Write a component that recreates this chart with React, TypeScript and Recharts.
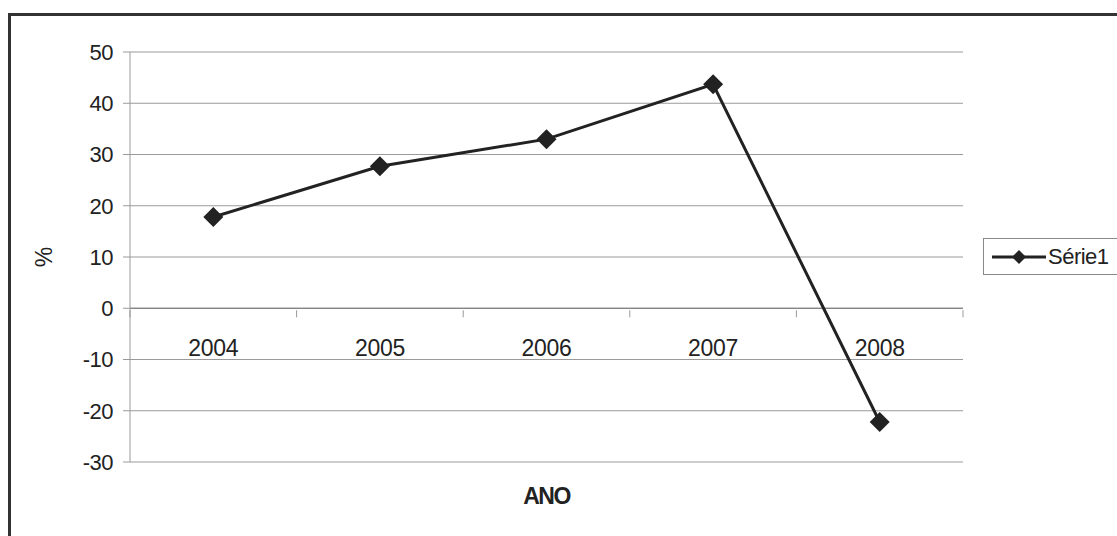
import { LineChart, Line, XAxis, YAxis, CartesianGrid, ReferenceLine, Legend } from 'recharts'

// valores (% por ano)
const years = ['2004', '2005', '2006', '2007', '2008']
const serie1 = [17.8, 27.7, 33, 43.7, -22.2]
const yTicks = [-30, -20, -10, 0, 10, 20, 30, 40, 50]
const SERIES_NAME = 'Série1'

const data = years.map((ano, i) => ({ ano, v: serie1[i] }))

const W = 1117
const H = 536
const MARGIN = { top: 52, right: 154, bottom: 0, left: 30 }
const Y_AXIS_W = 100
const X_AXIS_H = 74
const Y_MIN = -30
const Y_MAX = 50

const plotH = H - MARGIN.top - MARGIN.bottom - X_AXIS_H
const plotW = W - MARGIN.left - MARGIN.right - Y_AXIS_W
const band = plotW / years.length
// distância entre a base do gráfico e a linha do zero
const zeroShift = (plotH * (0 - Y_MIN)) / (Y_MAX - Y_MIN)

const FONT = '"Liberation Sans", Arial, sans-serif'
const INK = '#222'
const GRID = '#9a9a9a'

function Diamond(props: any) {
  const { cx, cy } = props
  if (cx == null || cy == null) return null
  const r = 10
  return <polygon points={`${cx},${cy - r} ${cx + r},${cy} ${cx},${cy + r} ${cx - r},${cy}`} fill={INK} />
}

// rótulos do eixo X ficam sobre a linha do zero, como no Excel
function XTick(props: any) {
  const { x, y, payload, index } = props
  const y0 = y - zeroShift
  return (
    <g>
      <line x1={x - band / 2} x2={x - band / 2} y1={y0} y2={y0 + 7} stroke={GRID} />
      {index === years.length - 1 && (
        <line x1={x + band / 2} x2={x + band / 2} y1={y0} y2={y0 + 7} stroke={GRID} />
      )}
      <text x={x} y={y0 + 38} textAnchor="middle" dominantBaseline="central"
        fontSize={23} fontFamily={FONT} fill={INK} letterSpacing={-0.3}>
        {payload.value}
      </text>
    </g>
  )
}

function LegendBox() {
  return (
    <div style={{
      border: '1px solid #888', borderRight: 'none', height: 37, width: 134,
      display: 'flex', alignItems: 'center', boxSizing: 'border-box',
      fontFamily: FONT, fontSize: 22, color: INK, letterSpacing: -0.5,
    }}>
      <svg width={62} height={30}>
        <line x1={8} x2={62} y1={15} y2={15} stroke={INK} strokeWidth={3} />
        <polygon points="35,8 42,15 35,22 28,15" fill={INK} />
      </svg>
      <span style={{ marginLeft: 2 }}>{SERIES_NAME}</span>
    </div>
  )
}

export default function App() {
  return (
    <div style={{ position: 'absolute', left: 0, top: 0, width: W, height: H, background: '#fff' }}>
      <div style={{
        position: 'absolute', left: 8, top: 13, width: W - 8, height: H - 13,
        borderLeft: '3px solid #333', borderTop: '3px solid #333', boxSizing: 'border-box',
      }} />
      <div style={{ position: 'absolute', left: 0, top: 0 }}>
        <LineChart width={W} height={H} data={data} margin={MARGIN}>
          <CartesianGrid vertical={false} stroke={GRID} strokeWidth={1} />
          <XAxis
            dataKey="ano" height={X_AXIS_H} axisLine={false} tickLine={false} tickSize={0}
            padding={{ left: band / 2, right: band / 2 }}
            tick={<XTick />} interval={0}
            label={{ value: 'ANO', position: 'insideTop', offset: 26, fontSize: 23, fontWeight: 'bold', fill: INK, fontFamily: FONT, letterSpacing: -1.5 }}
          />
          <YAxis
            width={Y_AXIS_W} domain={[Y_MIN, Y_MAX]} ticks={yTicks} interval={0}
            axisLine={{ stroke: GRID }} tickLine={{ stroke: GRID }} tickSize={7} tickMargin={10}
            tick={{ fontSize: 22, fill: INK, fontFamily: FONT, letterSpacing: -0.5 }}
            label={{ value: '%', angle: -90, position: 'insideLeft', offset: 14, fontSize: 23, fill: INK, fontFamily: FONT, style: { textAnchor: 'middle' } }}
          />
          <ReferenceLine y={0} stroke="#777" />
          <Legend
            layout="vertical" align="center" verticalAlign="middle"
            wrapperStyle={{ position: 'absolute', left: 983, top: 238, width: 134 }}
            content={<LegendBox />}
          />
          <Line
            dataKey="v" name={SERIES_NAME} stroke={INK} strokeWidth={3}
            dot={<Diamond />} activeDot={false} isAnimationActive={false}
          />
        </LineChart>
      </div>
    </div>
  )
}
